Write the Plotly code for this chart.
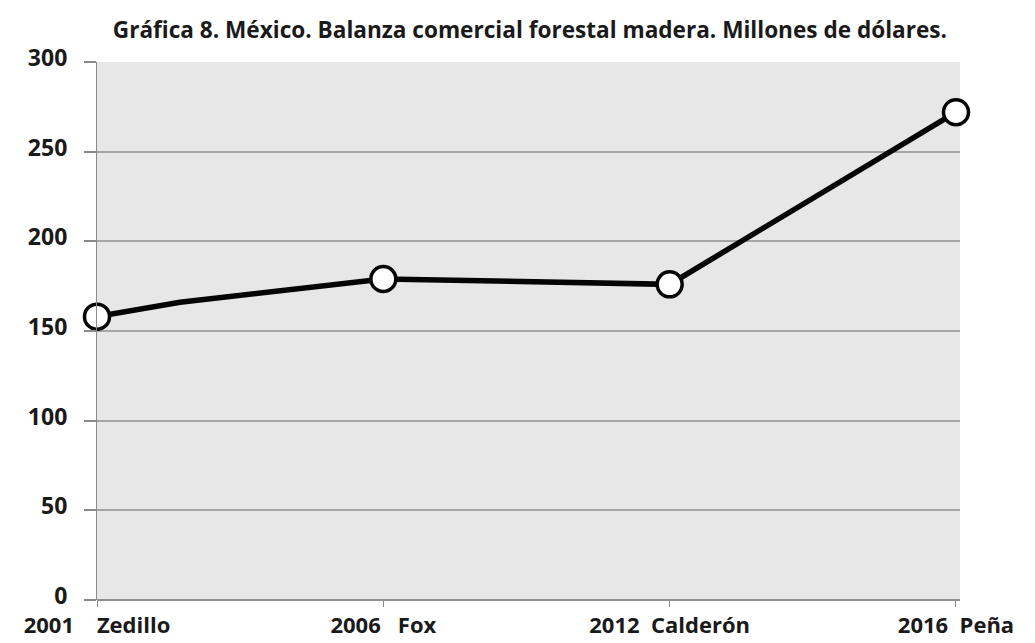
import plotly.graph_objects as go

# Data
periods = ["2001 Zedillo", "2006 Fox", "2012 Calderón", "2016 Peña"]
years = ["2001", "2006", "2012", "2016"]
names = ["Zedillo", "Fox", "Calderón", "Peña"]
gaps = [4, 3, 2, 2]  # spacing between year and name, as in the picture
tick_labels = [y + "\u00a0" * g + n for y, g, n in zip(years, gaps, names)]
period_pos = [0, 1, 2, 3]
period_values = [158, 179, 176, 272]

# full line path (including unmarked intermediate readings)
line_pos = [0, 0.29, 1, 1.4, 2, 3]
line_values = [158, 166, 179, 177.5, 176, 272]

y_ticks = [0, 50, 100, 150, 200, 250, 300]

title = "Gráfica 8. México. Balanza comercial forestal madera. Millones de dólares."

fig = go.Figure()
fig.add_trace(go.Scatter(
    x=line_pos, y=line_values, mode="lines",
    line=dict(color="#050505", width=5.5),
    hoverinfo="skip", showlegend=False, cliponaxis=False,
))
fig.add_trace(go.Scatter(
    x=period_pos, y=period_values, mode="markers",
    marker=dict(size=25, color="white", line=dict(color="#050505", width=3.5)),
    text=periods, showlegend=False, cliponaxis=False,
))

font_family = "Open Sans"
fig.update_layout(
    width=1035, height=643,
    margin=dict(l=97, r=75, t=62, b=43, autoexpand=False),
    paper_bgcolor="white",
    plot_bgcolor="#e7e7e7",
    title=dict(text=title, x=0.512, xanchor="center", y=0.953, yanchor="middle",
               font=dict(family=font_family, size=22.6, color="#1a1a1a", weight=700)),
    xaxis=dict(
        range=[0, 3.014], tickvals=period_pos, ticktext=tick_labels,
        showgrid=False, zeroline=False,
        showline=False,
        ticks="outside", ticklen=6, tickcolor="#8a8a8a", tickwidth=1.2,
        tickfont=dict(family=font_family, size=22, color="#1a1a1a", weight=700),
        automargin=False, fixedrange=True,
    ),
    yaxis=dict(
        range=[0, 300], tickvals=y_ticks,
        showgrid=True, gridcolor="#a6a6a6", gridwidth=1.5,
        zeroline=True, zerolinecolor="#8f8f8f", zerolinewidth=2,
        showline=True, linecolor="#8a8a8a", linewidth=1.2,
        ticks="outside", ticklen=12, tickcolor="#8a8a8a", tickwidth=1.5,
        ticklabelstandoff=12, ticklabelshift=-4,
        tickfont=dict(family=font_family, size=23, color="#1a1a1a", weight=700),
        automargin=False, fixedrange=True,
    ),
)

fig.write_html("out.html")
